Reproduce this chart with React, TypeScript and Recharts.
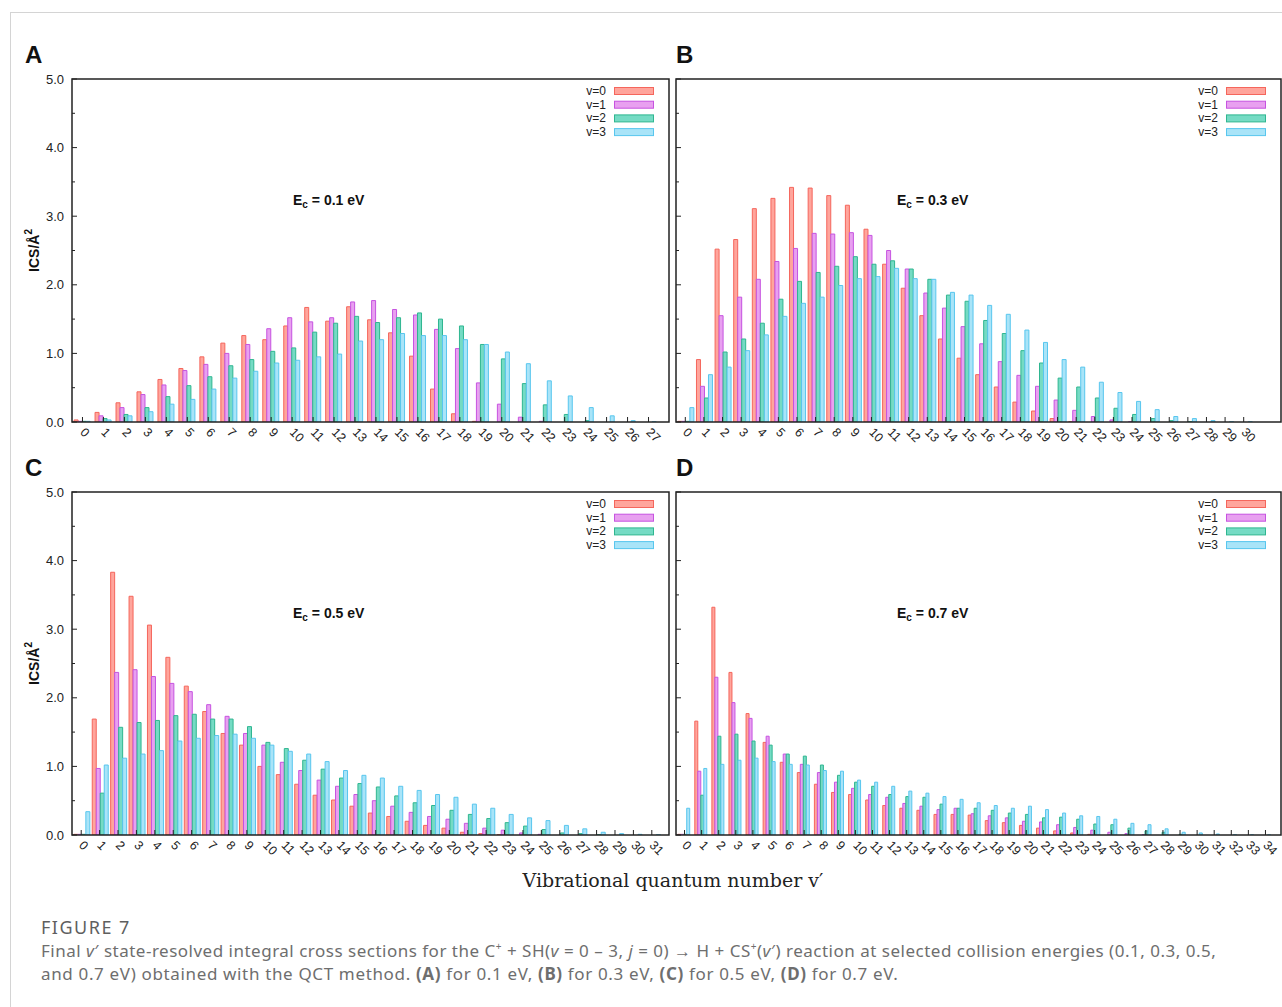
import React from 'react';
import { BarChart, Bar, XAxis, YAxis } from 'recharts';

// ---------- categories (v') ----------
const catsA = ['0','1','2','3','4','5','6','7','8','9','10','11','12','13','14','15','16','17','18','19','20','21','22','23','24','25','26','27'];
const catsB = ['0','1','2','3','4','5','6','7','8','9','10','11','12','13','14','15','16','17','18','19','20','21','22','23','24','25','26','27','28','29','30'];
const catsC = ['0','1','2','3','4','5','6','7','8','9','10','11','12','13','14','15','16','17','18','19','20','21','22','23','24','25','26','27','28','29','30','31'];
const catsD = ['0','1','2','3','4','5','6','7','8','9','10','11','12','13','14','15','16','17','18','19','20','21','22','23','24','25','26','27','28','29','30','31','32','33','34'];

// ---------- Panel A: Ec = 0.1 eV ----------
const a0 = [0.03,0.14,0.28,0.44,0.62,0.78,0.95,1.15,1.26,1.20,1.40,1.67,1.47,1.68,1.49,1.30,0.96,0.48,0.12,0.01,0,0,0,0,0,0,0,0];
const a1 = [0.01,0.09,0.21,0.40,0.54,0.75,0.84,1.00,1.13,1.36,1.52,1.46,1.52,1.75,1.77,1.64,1.56,1.35,1.07,0.57,0.26,0.07,0.01,0,0,0,0,0];
const a2 = [0.01,0.05,0.11,0.21,0.37,0.53,0.66,0.82,0.91,1.03,1.08,1.31,1.44,1.54,1.45,1.52,1.59,1.50,1.40,1.13,0.92,0.56,0.25,0.11,0.02,0,0,0];
const a3 = [0.01,0.03,0.09,0.15,0.26,0.33,0.48,0.64,0.74,0.86,0.90,0.95,0.99,1.18,1.20,1.29,1.26,1.26,1.20,1.13,1.02,0.85,0.60,0.38,0.21,0.09,0.02,0.005];

// ---------- Panel B: Ec = 0.3 eV ----------
const b0 = [0.01,0.91,2.52,2.66,3.11,3.26,3.42,3.41,3.30,3.16,2.81,2.30,1.95,1.55,1.21,0.93,0.69,0.51,0.29,0.16,0.05,0.005,0,0,0,0,0,0,0,0,0];
const b1 = [0.01,0.52,1.55,1.82,2.08,2.34,2.53,2.75,2.74,2.76,2.72,2.50,2.23,1.88,1.66,1.39,1.14,0.88,0.68,0.52,0.32,0.17,0.08,0.03,0.005,0,0,0,0,0,0];
const b2 = [0.01,0.35,1.02,1.21,1.44,1.79,2.05,2.18,2.27,2.41,2.30,2.35,2.23,2.08,1.85,1.76,1.48,1.29,1.04,0.86,0.64,0.51,0.35,0.20,0.11,0.05,0.02,0.005,0,0,0];
const b3 = [0.21,0.69,0.80,1.04,1.27,1.54,1.73,1.82,1.99,2.09,2.12,2.24,2.09,2.08,1.89,1.85,1.70,1.57,1.34,1.16,0.91,0.80,0.58,0.43,0.30,0.18,0.08,0.05,0.02,0.005,0.003];

// ---------- Panel C: Ec = 0.5 eV ----------
const c0 = [0.01,1.69,3.83,3.48,3.06,2.59,2.17,1.80,1.48,1.31,1.00,0.88,0.74,0.58,0.51,0.42,0.32,0.27,0.20,0.14,0.10,0.04,0.02,0.005,0,0,0,0,0,0,0,0];
const c1 = [0.01,0.97,2.37,2.41,2.31,2.21,2.09,1.90,1.73,1.48,1.31,1.06,0.94,0.80,0.71,0.59,0.50,0.42,0.33,0.27,0.23,0.17,0.10,0.07,0.03,0.01,0,0,0,0,0,0];
const c2 = [0.01,0.61,1.57,1.64,1.67,1.74,1.76,1.69,1.69,1.58,1.35,1.26,1.09,0.96,0.83,0.75,0.70,0.57,0.47,0.43,0.36,0.30,0.24,0.18,0.13,0.08,0.03,0.02,0.005,0,0,0];
const c3 = [0.34,1.02,1.12,1.18,1.23,1.37,1.41,1.45,1.47,1.41,1.31,1.22,1.18,1.07,0.94,0.87,0.83,0.71,0.65,0.59,0.55,0.45,0.39,0.30,0.25,0.21,0.14,0.09,0.04,0.02,0.01,0.005];

// ---------- Panel D: Ec = 0.7 eV ----------
const d0 = [0.01,1.66,3.32,2.37,1.77,1.35,1.06,0.91,0.74,0.62,0.59,0.51,0.43,0.39,0.36,0.30,0.30,0.29,0.21,0.18,0.14,0.10,0.06,0.03,0.01,0,0,0,0,0,0,0,0,0,0];
const d1 = [0.01,0.93,2.30,1.93,1.70,1.44,1.18,1.03,0.91,0.77,0.68,0.59,0.55,0.46,0.42,0.37,0.39,0.31,0.28,0.25,0.20,0.19,0.15,0.11,0.07,0.04,0.02,0.005,0,0,0,0,0,0,0];
const d2 = [0.01,0.58,1.44,1.47,1.37,1.31,1.18,1.15,1.02,0.87,0.77,0.71,0.59,0.56,0.55,0.45,0.39,0.39,0.36,0.32,0.30,0.25,0.26,0.23,0.16,0.15,0.10,0.06,0.04,0.01,0,0,0,0,0];
const d3 = [0.39,0.97,1.03,1.09,1.12,1.07,1.03,1.02,0.94,0.93,0.80,0.77,0.71,0.64,0.61,0.56,0.52,0.47,0.43,0.39,0.42,0.37,0.32,0.28,0.27,0.23,0.17,0.15,0.09,0.04,0.03,0.015,0.005,0.003,0.002];

// ---------- axis ticks / legend ----------
const yTicks = [0, 0.5, 1, 1.5, 2, 2.5, 3, 3.5, 4, 4.5, 5];
const seriesNames = ['v=0', 'v=1', 'v=2', 'v=3'];
const seriesKeys = ['v0', 'v1', 'v2', 'v3'];
const fills = ['#ffa59c', '#e8a0f0', '#75dbc4', '#a9e4f8'];
const strokes = ['#f5665c', '#c653e0', '#2fb690', '#58c6ee'];

const FONT = '"Liberation Sans", Arial, Helvetica, sans-serif';

function makeRows(cats: string[], s0: number[], s1: number[], s2: number[], s3: number[]) {
  return cats.map((c, i) => ({ c, v0: s0[i], v1: s1[i], v2: s2[i], v3: s3[i] }));
}

const rowsA = makeRows(catsA, a0, a1, a2, a3);
const rowsB = makeRows(catsB, b0, b1, b2, b3);
const rowsC = makeRows(catsC, c0, c1, c2, c3);
const rowsD = makeRows(catsD, d0, d1, d2, d3);

const XTick = (props: any) => {
  const { x, y, payload } = props;
  const tx = x - 3;
  const ty = y + 11;
  return (
    <g>
      <line x1={x} x2={x} y1={y} y2={y - 5} stroke="#222" strokeWidth={1} />
      <text x={tx} y={ty} transform={`rotate(45 ${tx} ${ty})`} fontSize={12.5} fill="#222" fontFamily={FONT}>
        {payload.value}
      </text>
    </g>
  );
};

const YTick = (props: any) => {
  const { x, y, payload, showLabels } = props;
  const v = Number(payload.value);
  const major = Math.abs(v - Math.round(v)) < 1e-9;
  return (
    <g>
      <line x1={x} x2={x + (major ? 5 : 3)} y1={y} y2={y} stroke="#222" strokeWidth={1} />
      {showLabels && major ? (
        <text x={x - 8} y={y + 4.5} textAnchor="end" fontSize={13} fill="#222" fontFamily={FONT}>
          {v.toFixed(1)}
        </text>
      ) : null}
    </g>
  );
};

type PanelProps = {
  px: number; py: number; pw: number; ph: number;
  rows: any[]; padRight: number; showLabels: boolean;
};

function Panel({ px, py, pw, ph, rows, padRight, showLabels }: PanelProps) {
  const W = pw + 76;
  const H = ph + 50;
  return (
    <div style={{ position: 'absolute', left: px - 72, top: py - 10, width: W, height: H }}>
      <BarChart width={W} height={H} data={rows} margin={{ top: 10, right: 4, left: 0, bottom: 0 }} barCategoryGap="10%" barGap={0}>
        <XAxis
          dataKey="c"
          height={40}
          axisLine={false}
          tickLine={false}
          tickSize={0}
          tickMargin={0}
          interval={0}
          padding={{ left: 0, right: padRight }}
          tick={(p: any) => <XTick {...p} />}
        />
        <YAxis
          width={72}
          type="number"
          domain={[0, 5]}
          ticks={yTicks}
          interval={0}
          axisLine={false}
          tickLine={false}
          tickSize={0}
          tickMargin={0}
          allowDataOverflow
          tick={(p: any) => <YTick {...p} showLabels={showLabels} />}
        />
        {seriesKeys.map((k, i) => (
          <Bar key={k} dataKey={k} fill={fills[i]} stroke={strokes[i]} strokeWidth={1} isAnimationActive={false} />
        ))}
      </BarChart>
    </div>
  );
}

const panels = [
  { id: 'A', px: 72, py: 79, pw: 597, ph: 343, rows: rowsA, padRight: 10, showLabels: true, ec: '0.1', lx: 25 },
  { id: 'B', px: 676, py: 79, pw: 605, ph: 343, rows: rowsB, padRight: 28, showLabels: false, ec: '0.3', lx: 676 },
  { id: 'C', px: 72, py: 492, pw: 597, ph: 343, rows: rowsC, padRight: 8, showLabels: true, ec: '0.5', lx: 25 },
  { id: 'D', px: 676, py: 492, pw: 605, ph: 343, rows: rowsD, padRight: 7, showLabels: false, ec: '0.7', lx: 676 },
];

function Overlay() {
  return (
    <svg width={1282} height={1007} style={{ position: 'absolute', left: 0, top: 0, pointerEvents: 'none' }}>
      {panels.map((p) => (
        <g key={p.id} fontFamily={FONT}>
          <rect x={p.px} y={p.py} width={p.pw} height={p.ph} fill="none" stroke="#222" strokeWidth={1.5} />
          <text x={p.lx} y={p.py - 16.5} fontSize={24} fontWeight="bold" fill="#111">{p.id}</text>
          <text x={p.px + 221} y={p.py + 126} fontSize={14} fontWeight="bold" fill="#111">
            E<tspan fontSize={10} dy={3}>c</tspan><tspan dy={-3}> = {p.ec} eV</tspan>
          </text>
          {seriesNames.map((n, i) => (
            <g key={n}>
              <text x={p.px + p.pw - 63} y={p.py + 12 + i * 13.7 + 4} textAnchor="end" fontSize={12} fill="#222">{n}</text>
              <rect x={p.px + p.pw - 54.5} y={p.py + 12 + i * 13.7 - 3.5} width={39} height={7} fill={fills[i]} stroke={strokes[i]} strokeWidth={1} />
            </g>
          ))}
          {p.showLabels ? (
            <text
              x={34}
              y={p.py + p.ph / 2}
              transform={`rotate(-90 34 ${p.py + p.ph / 2})`}
              textAnchor="middle"
              dominantBaseline="central"
              fontSize={14}
              fontWeight="bold"
              fill="#111"
            >
              ICS/Å<tspan fontSize={10} dy={-6}>2</tspan>
            </text>
          ) : null}
        </g>
      ))}
      <text x={673} y={887} textAnchor="middle" fontSize={19} fill="#222" fontFamily='"DejaVu Serif", "Liberation Serif", serif'>
        Vibrational quantum number v′
      </text>
    </svg>
  );
}

export default function App() {
  return (
    <div style={{ position: 'absolute', left: 0, top: 0, width: 1282, height: 1007, background: '#fff', overflow: 'hidden' }}>
      <div style={{ position: 'absolute', left: 10, top: 12, width: 1300, height: 1000, borderTop: '1px solid #d4d4d4', borderLeft: '1px solid #d4d4d4' }} />
      {panels.map((p) => (
        <Panel key={p.id} px={p.px} py={p.py} pw={p.pw} ph={p.ph} rows={p.rows} padRight={p.padRight} showLabels={p.showLabels} />
      ))}
      <Overlay />
      <div style={{ position: 'absolute', left: 41, top: 915, fontFamily: '"Noto Sans", "Open Sans", sans-serif', color: '#6e6e6e', whiteSpace: 'nowrap' }}>
        <div style={{ fontSize: 18, lineHeight: '25px', color: '#5f5f5f', letterSpacing: 1.5 }}>FIGURE 7</div>
        <div style={{ fontSize: 17, lineHeight: '23px', letterSpacing: 0.5, marginTop: -5 }}>
          Final <i>v</i>′ state-resolved integral cross sections for the C<sup style={{ fontSize: 10 }}>+</sup> + SH(<i>v</i> = 0 – 3, <i>j</i> = 0) → H + CS<sup style={{ fontSize: 10 }}>+</sup>(<i>v</i>′) reaction at selected collision energies (0.1, 0.3, 0.5,
        </div>
        <div style={{ fontSize: 17, lineHeight: '23px', letterSpacing: 0.65 }}>
          and 0.7 eV) obtained with the QCT method. <b>(A)</b> for 0.1 eV, <b>(B)</b> for 0.3 eV, <b>(C)</b> for 0.5 eV, <b>(D)</b> for 0.7 eV.
        </div>
      </div>
    </div>
  );
}
